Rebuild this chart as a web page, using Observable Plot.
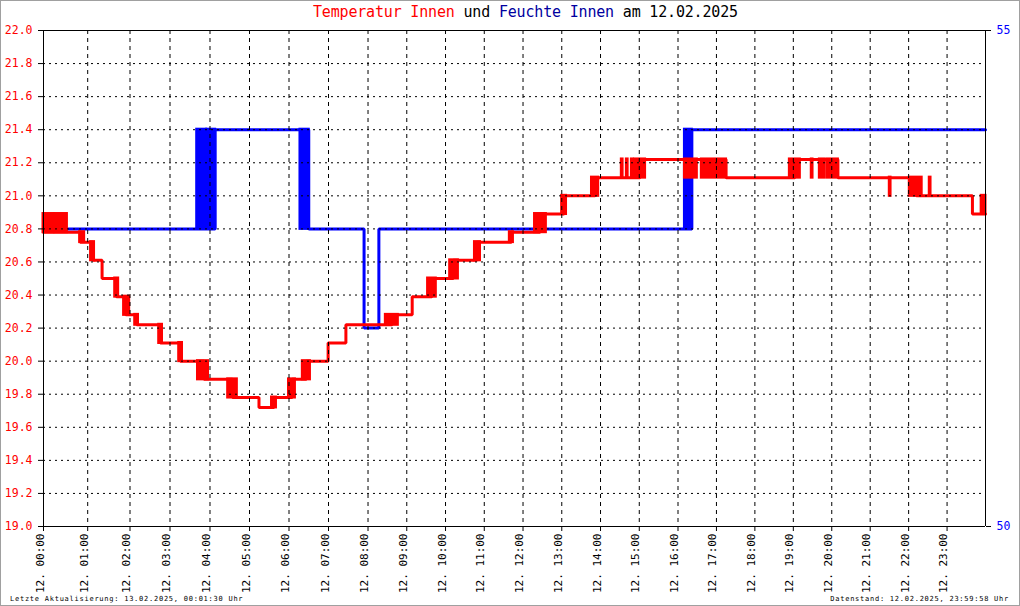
<!DOCTYPE html>
<html><head><meta charset="utf-8">
<script src="https://cdn.jsdelivr.net/npm/d3@7"></script>
<script src="https://cdn.jsdelivr.net/npm/@observablehq/plot@0.6"></script>
<style>
html,body{margin:0;padding:0;background:#fff;}
#wrap{position:relative;width:1020px;height:606px;overflow:hidden;background:#fff;}
#chart{position:absolute;left:0;top:0;}
#border{position:absolute;left:0;top:0;width:1020px;height:606px;box-sizing:border-box;border:1px solid #a0a0a0;pointer-events:none;}
.t{position:absolute;font-family:"DejaVu Sans Mono",monospace;white-space:pre;line-height:1;}
#title{left:313px;top:5px;font-size:15px;letter-spacing:-0.18px;color:#000;}
#foot1{left:10px;top:596px;font-size:7px;letter-spacing:0.75px;color:#000;}
#foot2{right:11px;top:596px;font-size:7px;letter-spacing:0.75px;color:#000;}
g[aria-label="ylab"] text{letter-spacing:0.7px;}
g[aria-label="xlab"] text{letter-spacing:-0.7px;}
</style>
</head><body>
<div id="wrap">
<div id="chart"></div>
<div class="t" id="title"><span style="color:#ff0000">Temperatur Innen</span> und <span style="color:#0000a0">Feuchte Innen</span> am 12.02.2025</div>
<div class="t" id="foot1">Letzte Aktualisierung: 13.02.2025, 00:01:30 Uhr</div>
<div class="t" id="foot2">Datenstand: 12.02.2025, 23:59:58 Uhr</div>
<div id="border"></div>
</div>
<script>
// ---- data ----
const hourTicks = d3.range(0, 24);
const tempTicks = [19.0,19.2,19.4,19.6,19.8,20.0,20.2,20.4,20.6,20.8,21.0,21.2,21.4,21.6,21.8,22.0];
const humTicks = [50, 55];

// temperature steps: [hour, °C] (step-after)
const tempSteps = [
  [0,20.78],[0.83,20.72],[1.12,20.61],[1.34,20.50],[1.68,20.39],[1.90,20.28],
  [2.17,20.22],[2.76,20.11],[3.26,20.00],[3.85,19.89],[4.57,19.78],[5.24,19.72],
  [5.62,19.78],[6.08,19.89],[6.44,20.00],[6.99,20.11],[7.44,20.22],[8.62,20.28],
  [9.14,20.39],[9.65,20.50],[10.20,20.61],[10.81,20.72],[11.70,20.78],[12.44,20.89],
  [13.06,21.00],[13.86,21.11],[15.02,21.22],[17.25,21.11],[19.04,21.22],[20.16,21.11],
  [22.20,21.00],[23.66,20.89],[24.00,20.89]
];
// temperature flicker bursts: [fromHour, toHour, low, high]
const tempBursts = [
  [0,0.23,20.78,20.89],[0.26,0.53,20.78,20.89],[0.83,0.92,20.72,20.78],[1.08,1.15,20.61,20.72],
  [1.65,1.72,20.39,20.50],[1.86,1.98,20.28,20.39],[2.13,2.20,20.22,20.28],[2.73,2.80,20.11,20.22],
  [3.23,3.30,20.00,20.11],[3.70,3.95,19.89,20.00],[4.46,4.68,19.78,19.89],[5.57,5.67,19.72,19.78],
  [6.00,6.15,19.78,19.89],[6.35,6.53,19.89,20.00],[8.46,8.77,20.22,20.28],[9.55,9.75,20.39,20.50],
  [10.12,10.32,20.50,20.61],[10.76,10.89,20.61,20.72],[11.66,11.74,20.72,20.78],[12.31,12.59,20.78,20.89],
  [13.01,13.11,20.89,21.00],[13.78,13.94,21.00,21.11],[14.55,14.57,21.11,21.22],[14.68,14.70,21.11,21.22],
  [14.81,14.83,21.11,21.22],[14.89,15.15,21.11,21.22],[16.18,16.49,21.11,21.22],[16.62,17.25,21.11,21.22],
  [18.91,19.17,21.11,21.22],[19.48,19.50,21.11,21.22],[19.69,19.82,21.11,21.22],[19.90,20.16,21.11,21.22],
  [21.51,21.53,21.00,21.11],[22.03,22.34,21.00,21.11],[22.55,22.57,21.00,21.11],[23.90,24.00,20.89,21.00]
];
// humidity steps: [hour, %] (step-after)
const humSteps = [[0,53],[4.13,54],[6.50,53],[7.90,52],[8.28,53],[16.36,54],[24,54]];
const humBursts = [[3.68,3.90,53,54],[3.93,4.13,53,54],[6.29,6.50,53,54],[16.18,16.36,53,54]];

// the source chart's time axis is slightly non-uniform (sample-indexed); calibration of hours
const timeWarp = d3.scaleLinear()
  .domain([0, 1, 2, 4, 8, 16, 24])
  .range([0, 1.126, 2.204, 4.242, 8.268, 16.166, 24]);

// humidity (50..55) mapped onto the temperature axis (19..22)
const hT = h => 19 + (h - 50) * 0.6;
const pad = n => String(n).padStart(2, "0");

const chart = Plot.plot({
  width: 1020, height: 606,
  marginLeft: 43, marginRight: 35, marginTop: 30, marginBottom: 80,
  style: {fontFamily: "DejaVu Sans Mono", fontSize: "11px", background: "transparent", color: "black"},
  x: {axis: null, domain: [0, 24], transform: timeWarp},
  y: {axis: null, domain: [19, 22]},
  marks: [
    // humidity
    Plot.rect(humBursts, {x1: d=>d[0], x2: d=>d[1], y1: d=>hT(d[2]), y2: d=>hT(d[3]), fill: "#0000ff", stroke: "#0000ff", strokeWidth: 3}),
    Plot.line(humSteps, {x: d=>d[0], y: d=>hT(d[1]), curve: "step-after", stroke: "#0000ff", strokeWidth: 3, strokeLinejoin: "miter"}),
    // temperature
    Plot.rect(tempBursts, {x1: d=>d[0], x2: d=>d[1], y1: d=>d[2], y2: d=>d[3], fill: "#ff0000", stroke: "#ff0000", strokeWidth: 3}),
    Plot.line(tempSteps, {x: d=>d[0], y: d=>d[1], curve: "step-after", stroke: "#ff0000", strokeWidth: 3, strokeLinejoin: "miter"}),
    // grid
    Plot.ruleY(tempTicks.slice(1, -1), {stroke: "black", strokeDasharray: "2,4"}),
    Plot.ruleX(hourTicks.slice(1), {stroke: "black", strokeDasharray: "4,4"}),
    // frame
    Plot.ruleY([19, 22], {stroke: "black"}),
    Plot.ruleX([0, 24], {stroke: "black"}),
    // ticks
    Plot.axisY(tempTicks, {anchor: "left", tickSize: 5, tickFormat: () => "", label: null}),
    Plot.axisY(humTicks.map(hT), {anchor: "right", tickSize: 5, tickFormat: () => "", label: null}),
    Plot.axisX(hourTicks, {anchor: "bottom", tickSize: 5, tickFormat: () => "", label: null}),
    // labels
    Plot.text(tempTicks, {y: d=>d, frameAnchor: "left", dx: -11, textAnchor: "end", text: d=>d.toFixed(1), fill: "#ff0000", fontSize: 11.5, ariaLabel: "ylab"}),
    Plot.text(humTicks, {y: d=>hT(d), frameAnchor: "right", dx: 11, textAnchor: "start", text: d=>String(d), fill: "#0000ff", fontSize: 11.5, ariaLabel: "ylab"}),
    Plot.text(hourTicks, {x: d=>d, frameAnchor: "bottom", dy: 7, rotate: -90, textAnchor: "end", text: d=>`12. ${pad(d)}:00`, fill: "black", fontSize: 11, ariaLabel: "xlab"})
  ]
});
document.getElementById("chart").appendChild(chart);
</script>
</body></html>
